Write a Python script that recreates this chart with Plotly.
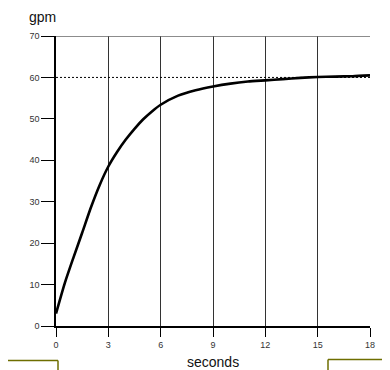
import plotly.graph_objects as go

# Data
seconds = [0, 0.5, 1, 1.5, 2, 2.5, 3, 3.5, 4, 4.5, 5, 5.5, 6, 7, 8, 9, 10, 11, 12, 13, 14, 15, 16, 17, 18]
gpm = [3.0, 10.3, 16.5, 22.5, 28.6, 34.0, 38.5, 42.0, 45.0, 47.6, 49.9, 51.8, 53.4, 55.6, 56.9, 57.8,
       58.5, 59.0, 59.3, 59.6, 59.9, 60.1, 60.2, 60.3, 60.5]
x_ticks = [0, 3, 6, 9, 12, 15, 18]
y_ticks = [0, 10, 20, 30, 40, 50, 60, 70]
target = 60

OFF = 8  # page body margin
W, H = 390 - OFF, 370 - OFF
L, R, T, B = 56 - OFF, 20, 36 - OFF, 44
PW, PH = W - L - R, H - T - B


def px(x):
    return (x - OFF - L) / PW


def py(y):
    return (H - B - (y - OFF)) / PH


fig = go.Figure()
fig.add_trace(go.Scatter(x=seconds, y=gpm, mode="lines", line=dict(color="black", width=2.6, shape="spline", smoothing=0.6),
                         hoverinfo="skip", showlegend=False))

shapes = [
    dict(type="line", xref="x", yref="y", x0=0, x1=18, y0=target, y1=target,
         line=dict(color="black", width=1, dash="2px,2px")),
    dict(type="line", xref="x", yref="y", x0=0, x1=18, y0=70, y1=70,
         line=dict(color="#666", width=1.5)),
]
olive = "#6e6e00"
deco = [
    (388, 7, 388, 359.5), (328, 359.5, 388.5, 359.5), (328, 359.5, 328, 372),
    (7, 360.5, 58, 360.5), (58, 360.5, 58, 372),
]
for x0, y0, x1, y1 in deco:
    shapes.append(dict(type="line", xref="paper", yref="paper", x0=px(x0), x1=px(x1), y0=py(y0), y1=py(y1),
                       line=dict(color=olive, width=1.5)))

fig.update_layout(
    width=W, height=H,
    margin=dict(l=L, r=R, t=T, b=B),
    paper_bgcolor="white", plot_bgcolor="white",
    font=dict(family="Liberation Sans, Arial, sans-serif", color="#333"),
    shapes=shapes,
    xaxis=dict(range=[0, 18], tickvals=x_ticks, ticktext=[str(v) for v in x_ticks],
               showgrid=True, gridcolor="#333", gridwidth=1, zeroline=False,
               showline=True, linecolor="black", linewidth=1.5,
               ticks="outside", ticklen=9, tickcolor="black", tickwidth=1,
               tickfont=dict(size=9, color="#333"), fixedrange=True),
    yaxis=dict(range=[0, 70], tickvals=y_ticks, ticktext=[str(v) for v in y_ticks],
               showgrid=False, zeroline=False,
               showline=True, linecolor="black", linewidth=1.5,
               ticks="outside", ticklen=13, tickcolor="black", tickwidth=1,
               tickfont=dict(size=9, color="#333"), fixedrange=True),
    annotations=[
        dict(text="gpm", xref="paper", yref="paper", x=px(27), y=py(17), xanchor="left", yanchor="middle",
             showarrow=False, font=dict(size=14, color="#111")),
        dict(text="seconds", xref="paper", yref="paper", x=0.5, y=py(362), xanchor="center", yanchor="middle",
             showarrow=False, font=dict(size=14, color="#111")),
    ],
)

fig.write_html("out.html")
